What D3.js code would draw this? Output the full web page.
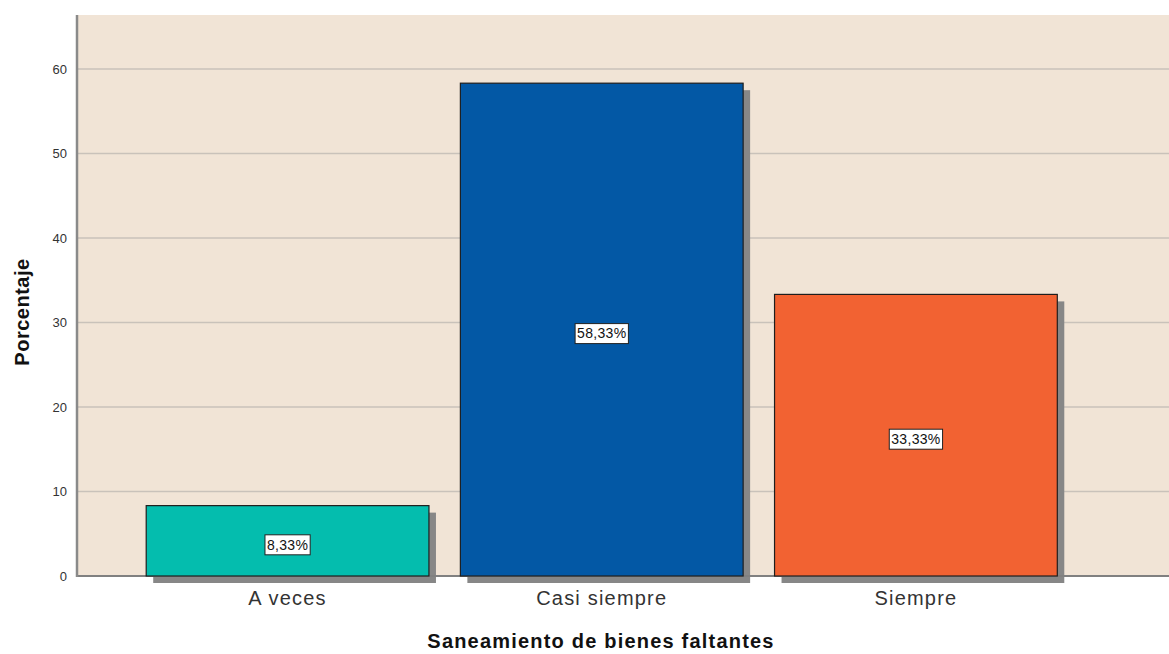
<!DOCTYPE html>
<html><head><meta charset="utf-8">
<script src="https://cdn.jsdelivr.net/npm/d3@7"></script>
<style>body{margin:0;background:#fff;}svg{display:block;}</style>
</head><body>
<svg id="c" width="1169" height="654"></svg>
<script>
const categories = ["A veces", "Casi siempre", "Siempre"];
const values = [8.33, 58.33, 33.33];
const labels = ["8,33%", "58,33%", "33,33%"];
const colors = ["#04bdae", "#0358a5", "#f26232"];
const yTicks = [0, 10, 20, 30, 40, 50, 60];

const svg = d3.select("#c");
const FONT = "Liberation Sans, Arial, sans-serif";
const plotL = 77, plotR = 1169, plotT = 15, plotB = 576;
const y = d3.scaleLinear().domain([0, 66.4]).range([plotB, plotT]);
const x = d3.scaleBand().domain(categories).range([130.5, 1073]).paddingInner(0.1).paddingOuter(0.05);

svg.append("rect").attr("x", plotL).attr("y", plotT).attr("width", plotR - plotL).attr("height", plotB - plotT).attr("fill", "#f1e4d6");

// grid
svg.append("g").selectAll("line").data(yTicks.filter(d => d > 0)).join("line")
  .attr("x1", plotL).attr("x2", plotR).attr("y1", d => y(d)).attr("y2", d => y(d))
  .attr("stroke", "#c9c2ba").attr("stroke-width", 1.5);

// shadows
const sh = 7;
svg.append("g").selectAll("rect").data(values).join("rect")
  .attr("x", (d, i) => x(categories[i]) + sh).attr("y", d => y(d) + sh)
  .attr("width", x.bandwidth()).attr("height", d => plotB - y(d))
  .attr("fill", "#878787");

// baseline
svg.append("line").attr("x1", plotL).attr("x2", plotR).attr("y1", plotB).attr("y2", plotB).attr("stroke", "#808080").attr("stroke-width", 2);

// bars
svg.append("g").selectAll("rect").data(values).join("rect")
  .attr("x", (d, i) => x(categories[i])).attr("y", d => y(d))
  .attr("width", x.bandwidth()).attr("height", d => plotB - y(d))
  .attr("fill", (d, i) => colors[i]).attr("stroke", "#1e1e1e").attr("stroke-width", 1.2);

// y axis line
svg.append("line").attr("x1", plotL).attr("x2", plotL).attr("y1", plotT).attr("y2", plotB + 1).attr("stroke", "#8a8a8a").attr("stroke-width", 2.5);

// y ticks
const yAxis = svg.append("g").attr("transform", `translate(${plotL},0)`)
  .call(d3.axisLeft(y).tickValues(yTicks).tickSize(0).tickPadding(10));
yAxis.select(".domain").remove();
yAxis.selectAll("text").attr("font-family", FONT).attr("font-size", 13).attr("fill", "#333");

// x axis labels
const xAxis = svg.append("g").attr("transform", `translate(0,${plotB})`)
  .call(d3.axisBottom(x).tickSize(0).tickPadding(15));
xAxis.select(".domain").remove();
xAxis.selectAll("text").attr("font-family", FONT).attr("font-size", 20).attr("letter-spacing", 1.2).attr("fill", "#333");

// value labels
const lg = svg.append("g").selectAll("g").data(values).join("g")
  .attr("transform", (d, i) => `translate(${x(categories[i]) + x.bandwidth() / 2},${(y(d) + plotB) / 2 + 4})`);
lg.each(function (d, i) {
  const g = d3.select(this);
  const t = g.append("text").text(labels[i]).attr("text-anchor", "middle").attr("dy", "0.35em")
    .attr("font-family", FONT).attr("font-size", 14).attr("letter-spacing", 0.3).attr("fill", "#111");
  const bb = t.node().getBBox();
  g.insert("rect", "text").attr("x", bb.x - 2).attr("y", -10).attr("width", bb.width + 4).attr("height", 20)
    .attr("fill", "#fff").attr("stroke", "#222").attr("stroke-width", 1);
});

// titles
svg.append("text").attr("x", 601).attr("y", 648).attr("text-anchor", "middle")
  .attr("font-family", FONT).attr("font-size", 20).attr("font-weight", "bold").attr("letter-spacing", 1.2).attr("fill", "#111")
  .text("Saneamiento de bienes faltantes");
svg.append("text").attr("transform", "translate(29,312) rotate(-90)").attr("text-anchor", "middle")
  .attr("font-family", FONT).attr("font-size", 20).attr("font-weight", "bold").attr("letter-spacing", 0.5).attr("fill", "#111")
  .text("Porcentaje");
</script>
</body></html>
